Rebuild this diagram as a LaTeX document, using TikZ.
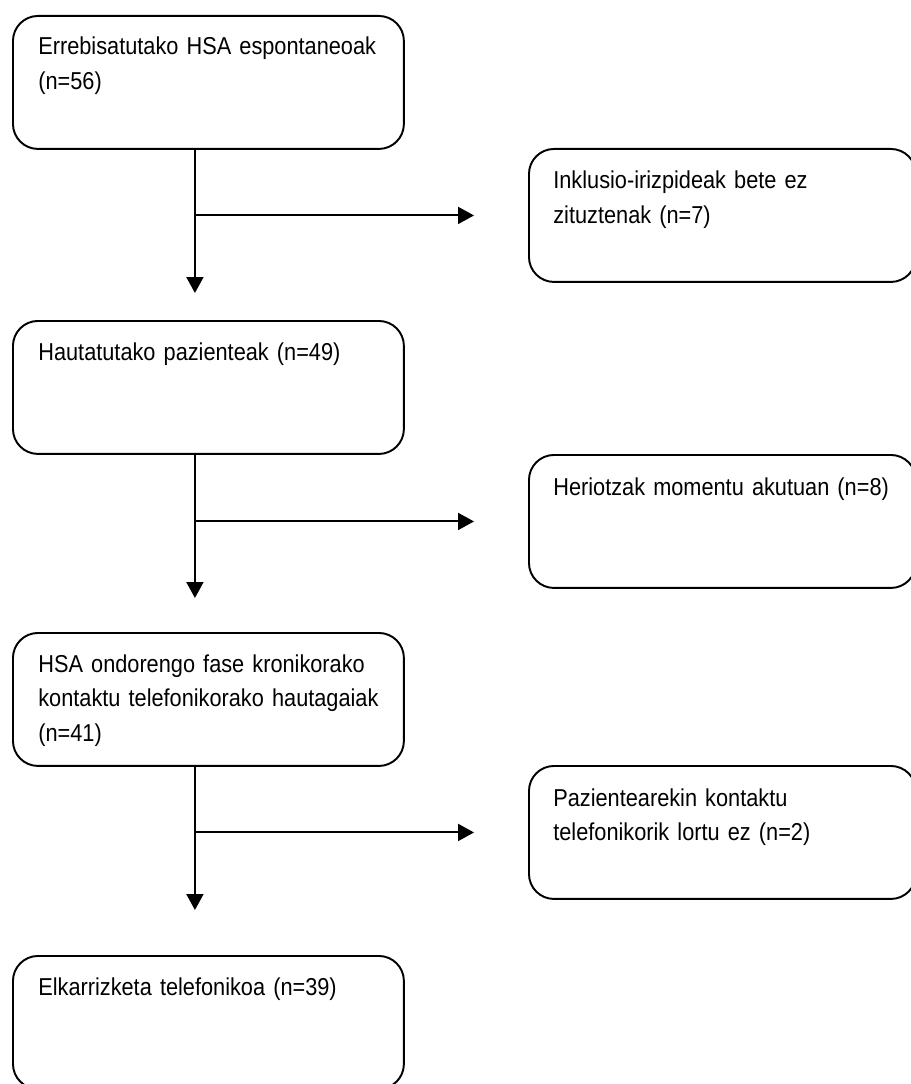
\documentclass[tikz,border=0pt]{standalone}
\usepackage{fontspec}
\setmainfont[FakeStretch=0.89,WordSpace=0.85]{Liberation Sans}
\usepackage{tikz}
\usetikzlibrary{arrows.meta}
\tikzset{
    flow box/.style={
        draw,line width=1.1pt,rounded corners=0.5cm,
        fill=white,anchor=north west,
        minimum width=7.82cm,minimum height=2.66cm
    },
    side box/.style={
        flow box,
        minimum width=7.74cm
    },
    flow text/.style={
        anchor=base west,inner sep=0pt,
        text width=7.4cm,align=left,
        font=\fontsize{13.9}{19.9}\selectfont
    },
    flow arrow/.style={->,line width=1.1pt},
    >={Triangle[length=0.32cm,width=0.34cm]}
}
\begin{document}
\begin{tikzpicture}[x=0.02cm,y=-0.02cm]
\useasboundingbox (0,0) rectangle (910,1084);
\foreach \i/\y/\txt in {1/15/{Errebisatutako HSA espontaneoak\\(n=56)},
    2/320/{Hautatutako pazienteak (n=49)},
    3/632/{HSA ondorengo fase kronikorako\\kontaktu telefonikorako hautagaiak\\(n=41)},
    4/955/{Elkarrizketa telefonikoa (n=39)}}
{
    \node[flow box] (box_\i) at (12,\y) {};
    \node[flow text] (text_\i) at ([shift={(26,40)}]box_\i.north west) {\txt};
}
\foreach \i/\y/\txt in {1/148/{Inklusio-irizpideak bete ez\\zituztenak (n=7)},
    2/454/{Heriotzak momentu akutuan (n=8)},
    3/765/{Pazientearekin kontaktu\\telefonikorik lortu ez (n=2)}}
{
    \node[side box] (side_\i) at (528,\y) {};
    \node[flow text] (sidetext_\i) at ([shift={(25,41)}]side_\i.north west) {\txt};
}
\foreach \i/\j/\gap in {1/2/0.54cm,2/3/0.68cm,3/4/0.9cm}
    \draw[flow arrow,shorten >=\gap] ([xshift=-0.27cm]box_\i.south) -- ([xshift=-0.27cm]box_\j.north);
\foreach \i in {1,2,3}
    \draw[flow arrow,shorten >=1.08cm] ([xshift=-0.27cm]box_\i.south |- side_\i.west) -- (side_\i.west);
\end{tikzpicture}
\end{document}
